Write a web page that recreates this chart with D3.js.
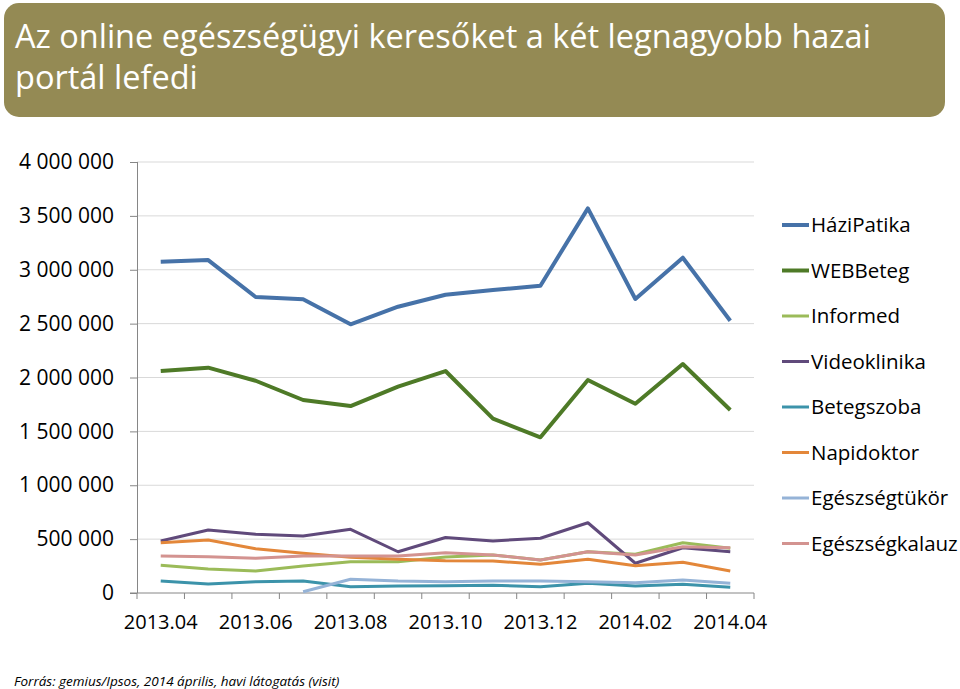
<!DOCTYPE html>
<meta charset="utf-8">
<script src="https://d3js.org/d3.v7.min.js"></script>
<style>
  body { margin: 0; background: #fff; }
  text { font-family: "Open Sans", sans-serif; }
</style>
<body>
<script>

var months = ["2013.04","2013.05","2013.06","2013.07","2013.08","2013.09","2013.10",
              "2013.11","2013.12","2014.01","2014.02","2014.03","2014.04"];

var haziPatika     = [3075000,3090000,2747000,2726000,2494000,2657000,2768000,2812000,2852000,3570000,2729000,3112000,2527000];
var webBeteg       = [2060000,2091000,1970000,1791000,1735000,1915000,2060000,1618000,1445000,1977000,1757000,2125000,1698000];
var informed       = [257000,223000,204000,251000,290000,290000,334000,353000,306000,383000,359000,467000,415000];
var videoklinika   = [483000,585000,545000,529000,591000,383000,515000,483000,508000,652000,276000,420000,383000];
var betegszoba     = [111000,84000,105000,111000,58000,65000,68000,71000,58000,90000,65000,81000,53000];
var napidoktor     = [467000,492000,411000,368000,331000,313000,300000,297000,266000,313000,253000,285000,204000];
var egeszsegtukor  = [null,null,null,12000,127000,111000,105000,111000,111000,105000,96000,121000,90000];
var egeszsegkalauz = [343000,337000,322000,343000,343000,343000,374000,353000,306000,383000,353000,430000,420000];

var seriesNames = ["HáziPatika","WEBBeteg","Informed","Videoklinika","Betegszoba","Napidoktor","Egészségtükör","Egészségkalauz"];
var seriesValues = [haziPatika, webBeteg, informed, videoklinika, betegszoba, napidoktor, egeszsegtukor, egeszsegkalauz];
var seriesColors = ["#4672A8","#4E7A27","#9BBB59","#604A7B","#3C93AA","#E3873A","#95B3D7","#D39390"];
var seriesWidths = [4, 4, 3, 3, 3, 3, 3, 3];

var yTicks = [0,500000,1000000,1500000,2000000,2500000,3000000,3500000,4000000];
var xLabels = ["2013.04","2013.06","2013.08","2013.10","2013.12","2014.02","2014.04"];

var title = ["Az online egészségügyi keresőket a két legnagyobb hazai", "portál lefedi"];
var source = "Forrás: gemius/Ipsos, 2014 április, havi látogatás (visit)";

var W = 960, H = 689;
var svg = d3.select("body").append("svg")
    .attr("width", W)
    .attr("height", H);

// title banner
svg.append("rect")
    .attr("x", 4).attr("y", 3)
    .attr("width", 941).attr("height", 114)
    .attr("rx", 15).attr("ry", 15)
    .style("fill", "#948A54");

svg.selectAll(".title")
    .data(title)
    .enter().append("text")
    .attr("class", "title")
    .attr("x", 15)
    .attr("y", function(d, i) { return 48 + i * 40.7; })
    .style("fill", "#fff")
    .style("font-size", "32.5px")
    .text(function(d) { return d; });

var margin = {top: 162, left: 137},
    width = 754 - 137,
    height = 593 - 162;

var g = svg.append("g")
    .attr("transform", "translate(" + margin.left + "," + margin.top + ")");

var x = d3.scaleBand().domain(months).range([0, width]);
var y = d3.scaleLinear().domain([0, 4000000]).range([height, 0]);

var loc = d3.formatLocale({decimal: ",", thousands: " ", grouping: [3], currency: ["", ""]});
var fmt = loc.format(",");

// gridlines
g.selectAll(".grid")
    .data(yTicks.slice(1))
    .enter().append("line")
    .attr("x1", 0).attr("x2", width)
    .attr("y1", function(d) { return y(d); })
    .attr("y2", function(d) { return y(d); })
    .style("stroke", "#D9D9D9")
    .style("stroke-width", 1);

var yAxis = d3.axisLeft(y).tickValues(yTicks).tickFormat(fmt).tickSize(7).tickPadding(16);
var yg = g.append("g").call(yAxis);
yg.select(".domain").style("stroke", "#868686").attr("d", "M0.5," + height + "V0");
yg.selectAll(".tick line").style("stroke", "#868686");
yg.selectAll(".tick text")
    .style("font-family", "'Open Sans', sans-serif")
    .style("font-size", "21px")
    .style("fill", "#000");

// x axis: ticks at band edges
var xg = g.append("g").attr("transform", "translate(0," + height + ")");
xg.append("line")
    .attr("x1", -7).attr("x2", width)
    .style("stroke", "#868686");
xg.selectAll(".xt")
    .data(months.concat(["end"]))
    .enter().append("line")
    .attr("x1", function(d, i) { return i < months.length ? x(d) : width; })
    .attr("x2", function(d, i) { return i < months.length ? x(d) : width; })
    .attr("y1", 0).attr("y2", 6)
    .style("stroke", "#868686");
xg.selectAll(".xl")
    .data(xLabels)
    .enter().append("text")
    .attr("x", function(d) { return x(d) + x.bandwidth() / 2; })
    .attr("y", 36)
    .attr("text-anchor", "middle")
    .style("font-size", "20px")
    .text(function(d) { return d; });

// lines
var line = d3.line()
    .defined(function(d) { return d.v != null; })
    .x(function(d) { return x(d.m) + x.bandwidth() / 2; })
    .y(function(d) { return y(d.v); });

seriesValues.forEach(function(vals, k) {
    var pts = months.map(function(m, i) { return {m: m, v: vals[i]}; });
    g.append("path")
        .datum(pts)
        .attr("d", line)
        .style("fill", "none")
        .style("stroke", seriesColors[k])
        .style("stroke-width", seriesWidths[k])
        .style("stroke-linejoin", "round");
});

// legend
var leg = svg.selectAll(".leg")
    .data(seriesNames)
    .enter().append("g")
    .attr("transform", function(d, i) { return "translate(782," + (225 + i * 45.5) + ")"; });
leg.append("line")
    .attr("x1", 0).attr("x2", 27)
    .style("stroke", function(d, i) { return seriesColors[i]; })
    .style("stroke-width", function(d, i) { return seriesWidths[i]; });
leg.append("text")
    .attr("x", 29)
    .attr("dy", "0.35em")
    .style("font-size", "20.5px")
    .text(function(d) { return d; });

svg.append("text")
    .attr("x", 14)
    .attr("y", 686)
    .style("font-size", "13.5px")
    .style("font-style", "italic")
    .text(source);

</script>
